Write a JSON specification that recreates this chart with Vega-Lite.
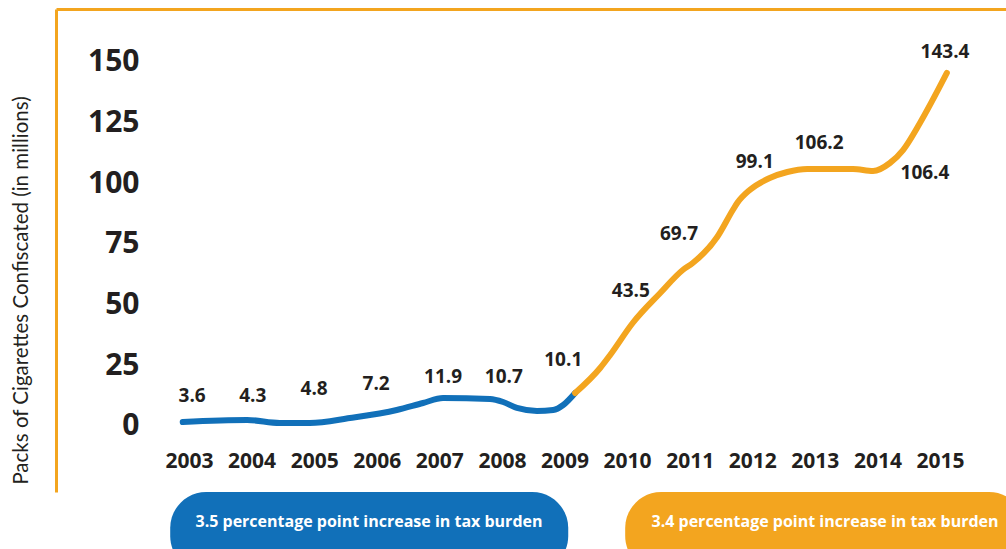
{
  "$schema": "https://vega.github.io/schema/vega-lite/v6.json",
  "width": 950,
  "height": 483,
  "autosize": {"type": "none"},
  "padding": {"left": 56, "top": 9, "right": 0, "bottom": 57},
  "background": "white",
  "config": {"view": {"stroke": null}},
  "datasets": {
    "line": [
      {"year": 2002.90, "val": 1.65, "seg": "a"},
      {"year": 2003.93, "val": 2.47, "seg": "a"},
      {"year": 2004.45, "val": 1.24, "seg": "a"},
      {"year": 2004.93, "val": 1.24, "seg": "a"},
      {"year": 2005.57, "val": 3.30, "seg": "a"},
      {"year": 2006.32, "val": 6.59, "seg": "a"},
      {"year": 2006.74, "val": 9.48, "seg": "a"},
      {"year": 2007.06, "val": 11.54, "seg": "a"},
      {"year": 2007.81, "val": 11.13, "seg": "a"},
      {"year": 2008.02, "val": 9.89, "seg": "a"},
      {"year": 2008.24, "val": 7.42, "seg": "a"},
      {"year": 2008.56, "val": 6.18, "seg": "a"},
      {"year": 2008.82, "val": 6.59, "seg": "a"},
      {"year": 2008.98, "val": 8.65, "seg": "a"},
      {"year": 2009.17, "val": 13.60, "seg": "a"},
      {"year": 2009.17, "val": 13.60, "seg": "b"},
      {"year": 2009.57, "val": 23.9, "seg": "b"},
      {"year": 2009.73, "val": 29.26, "seg": "b"},
      {"year": 2010.09, "val": 42.44, "seg": "b"},
      {"year": 2010.53, "val": 54.81, "seg": "b"},
      {"year": 2010.89, "val": 64.28, "seg": "b"},
      {"year": 2011.05, "val": 67.17, "seg": "b"},
      {"year": 2011.44, "val": 77.88, "seg": "b"},
      {"year": 2011.69, "val": 89.01, "seg": "b"},
      {"year": 2011.76, "val": 91.89, "seg": "b"},
      {"year": 2011.96, "val": 97.25, "seg": "b"},
      {"year": 2012.28, "val": 102.20, "seg": "b"},
      {"year": 2012.56, "val": 104.67, "seg": "b"},
      {"year": 2012.88, "val": 105.90, "seg": "b"},
      {"year": 2013.61, "val": 105.90, "seg": "b"},
      {"year": 2013.93, "val": 105.08, "seg": "b"},
      {"year": 2014.20, "val": 108.38, "seg": "b"},
      {"year": 2014.41, "val": 113.73, "seg": "b"},
      {"year": 2014.68, "val": 124.86, "seg": "b"},
      {"year": 2015.11, "val": 145.47, "seg": "b"}
    ],
    "labels": [
      {"year": 2003, "value": 3.6, "lx": 2003.05, "ly": 12.4},
      {"year": 2004, "value": 4.3, "lx": 2004.02, "ly": 12.4},
      {"year": 2005, "value": 4.8, "lx": 2005.00, "ly": 15.3},
      {"year": 2006, "value": 7.2, "lx": 2005.99, "ly": 17.3},
      {"year": 2007, "value": 11.9, "lx": 2007.06, "ly": 20.2},
      {"year": 2008, "value": 10.7, "lx": 2008.03, "ly": 20.2},
      {"year": 2009, "value": 10.1, "lx": 2008.98, "ly": 27.2},
      {"year": 2010, "value": 43.5, "lx": 2010.06, "ly": 55.6},
      {"year": 2011, "value": 69.7, "lx": 2010.83, "ly": 79.1},
      {"year": 2012, "value": 99.1, "lx": 2012.04, "ly": 108.8},
      {"year": 2013, "value": 106.2, "lx": 2013.07, "ly": 116.6},
      {"year": 2014, "value": 106.4, "lx": 2014.76, "ly": 104.3},
      {"year": 2015, "value": 143.4, "lx": 2015.08, "ly": 154.1}
    ],
    "pills": [
      {"seg": "a", "start": 2002.70, "end": 2009.06, "mid": 2005.876, "top": -27.2, "bottom": -60.2, "ty": -39.6, "text": "3.5 percentage point increase in tax burden"},
      {"seg": "b", "start": 2009.97, "end": 2016.36, "mid": 2013.163, "top": -27.2, "bottom": -60.2, "ty": -39.6, "text": "3.4 percentage point increase in tax burden"}
    ]
  },
  "layer": [
    {
      "data": {"name": "pills"},
      "mark": {"type": "rect", "cornerRadius": 36},
      "encoding": {
        "x": {"field": "start", "type": "quantitative", "scale": {"domain": [2000.875, 2016.055], "nice": false, "zero": false},
          "axis": {"orient": "bottom", "domain": false, "ticks": false, "tickSize": 0, "grid": false, "title": null,
            "values": [2003, 2004, 2005, 2006, 2007, 2008, 2009, 2010, 2011, 2012, 2013, 2014, 2015],
            "format": "d", "labelFont": "Open Sans", "labelFontWeight": "bold", "labelFontSize": 21, "labelColor": "#231F20",
            "labelPadding": -42, "labelFlush": false, "labelOverlap": false, "labelBound": false}},
        "x2": {"field": "end"},
        "y": {"field": "top", "type": "quantitative", "scale": {"domain": [-27.2, 171.84], "nice": false, "zero": false},
          "axis": {"orient": "left", "domainColor": "#F3A51F", "domainWidth": 3, "ticks": false, "tickSize": 0, "grid": false,
            "values": [0, 25, 50, 75, 100, 125, 150],
            "labelFont": "Open Sans", "labelFontWeight": "bold", "labelFontSize": 30, "labelColor": "#231F20",
            "labelPadding": -83, "labelAlign": "right", "labelBound": false, "labelFlush": false,
            "title": "Packs of Cigarettes Confiscated (in millions)", "titleFont": "Lato", "titleFontWeight": "normal",
            "titleFontSize": 20.5, "titleColor": "#231F20", "titleX": -29, "titleY": 281, "titleAngle": -90,
            "titleBaseline": "alphabetic", "titleAlign": "center"}},
        "y2": {"field": "bottom"},
        "color": {"field": "seg", "type": "nominal", "scale": {"domain": ["a", "b"], "range": ["#1170B9", "#F3A51F"]}, "legend": null}
      }
    },
    {
      "data": {"name": "pills"},
      "mark": {"type": "text", "font": "Open Sans", "fontWeight": "bold", "fontSize": 16, "color": "white", "align": "center", "baseline": "middle"},
      "encoding": {
        "x": {"field": "mid", "type": "quantitative", "axis": null},
        "y": {"field": "ty", "type": "quantitative"},
        "text": {"field": "text"}
      }
    },
    {
      "data": {"name": "line"},
      "mark": {"type": "line", "interpolate": "monotone", "strokeWidth": 6, "strokeCap": "round"},
      "encoding": {
        "x": {"field": "year", "type": "quantitative",
          "axis": {"orient": "top", "domainColor": "#F3A51F", "domainWidth": 3, "labels": false, "values": [], "ticks": false, "tickSize": 0, "grid": false, "title": null}},
        "y": {"field": "val", "type": "quantitative"},
        "color": {"field": "seg", "type": "nominal"},
        "detail": {"field": "seg"}
      }
    },
    {
      "data": {"name": "labels"},
      "mark": {"type": "text", "font": "Open Sans", "fontWeight": "bold", "fontSize": 19, "color": "#231F20", "align": "center", "baseline": "middle"},
      "encoding": {
        "x": {"field": "lx", "type": "quantitative", "axis": null},
        "y": {"field": "ly", "type": "quantitative"},
        "text": {"field": "value", "type": "quantitative", "format": ".1f"}
      }
    }
  ]
}
